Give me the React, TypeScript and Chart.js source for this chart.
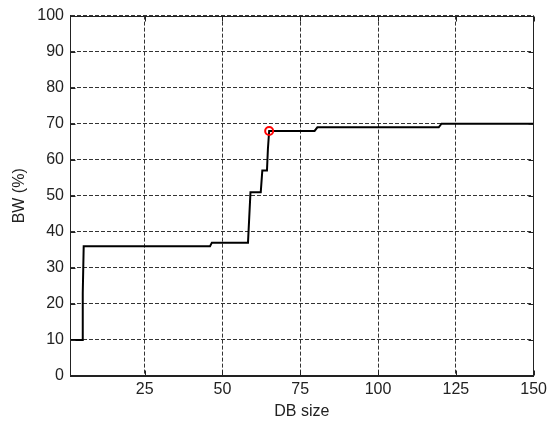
import { useEffect, useRef } from "react";
import { Chart, registerables } from "chart.js";

Chart.register(...registerables);

// Step curve: BW (%) versus DB size
const dbSize = [1, 4.9, 5.1, 5.4, 46, 46.6, 58.2, 58.6, 59, 62.3, 62.8, 64.3, 64.6, 65, 79.6, 80.5, 119.5, 120.4, 150];
const bw = [10, 10, 23, 36, 36, 37, 37, 44, 51, 51, 57, 57, 63, 68, 68, 69, 69, 70, 70];

// Highlighted point
const markerX = [65];
const markerY = [68];

const xTicks = [25, 50, 75, 100, 125, 150];
const yTicks = [0, 10, 20, 30, 40, 50, 60, 70, 80, 90, 100];

const FONT = "'Liberation Sans', Arial, sans-serif";

const boxPlugin = {
  id: "matlabBox",
  afterDatasetsDraw(chart: any) {
    const { ctx, chartArea, scales } = chart;
    const l = Math.round(chartArea.left) + 0.5;
    const r = Math.round(chartArea.right) - 0.5;
    const t = Math.round(chartArea.top) + 0.5;
    const b = Math.round(chartArea.bottom) - 0.5;
    ctx.save();
    ctx.strokeStyle = "#222";
    ctx.lineWidth = 1;
    ctx.setLineDash([]);
    ctx.strokeRect(l, t, r - l, b - t);
    const tl = 5;
    ctx.beginPath();
    for (const v of yTicks) {
      const y = Math.round(scales.y.getPixelForValue(v)) + 0.5;
      ctx.moveTo(l, y);
      ctx.lineTo(l + tl, y);
      ctx.moveTo(r, y);
      ctx.lineTo(r - tl, y);
    }
    for (const v of xTicks) {
      const x = Math.round(scales.x.getPixelForValue(v)) + 0.5;
      ctx.moveTo(x, b);
      ctx.lineTo(x, b - tl);
      ctx.moveTo(x, t);
      ctx.lineTo(x, t + tl);
    }
    ctx.stroke();
    ctx.restore();
  },
};

export default function App() {
  const ref = useRef<HTMLCanvasElement | null>(null);

  useEffect(() => {
    document.body.style.margin = "0";
    const canvas = ref.current;
    if (!canvas) return;
    const chart = new Chart(canvas, {
      type: "line",
      data: {
        datasets: [
          {
            label: "marker",
            data: markerX.map((x, i) => ({ x, y: markerY[i] })),
            showLine: false,
            pointStyle: "circle",
            pointRadius: 4,
            pointBorderWidth: 2,
            pointBorderColor: "#ff0000",
            pointBackgroundColor: "rgba(0,0,0,0)",
            order: 0,
          },
          {
            label: "BW",
            data: dbSize.map((x, i) => ({ x, y: bw[i] })),
            borderColor: "#000000",
            borderWidth: 2,
            pointRadius: 0,
            tension: 0,
            fill: false,
            order: 1,
          },
        ],
      },
      options: {
        animation: false,
        responsive: false,
        maintainAspectRatio: false,
        devicePixelRatio: 1,
        layout: { padding: { left: 0, right: 16, top: 10, bottom: 0 } },
        plugins: {
          legend: { display: false },
          tooltip: { enabled: false },
        },
        scales: {
          x: {
            type: "linear",
            min: 1,
            max: 150,
            afterBuildTicks: (s: any) => {
              s.ticks = xTicks.map((v) => ({ value: v }));
            },
            afterFit: (s: any) => {
              s.height = 49;
            },
            grid: {
              color: "#333",
              lineWidth: 1,
              drawTicks: false,
            },
            border: { display: true, color: "#222", dash: [4, 2] },
            ticks: {
              color: "#222",
              padding: 4,
              maxRotation: 0,
              font: { family: FONT, size: 16 },
            },
            title: {
              display: true,
              text: "DB size",
              color: "#222",
              padding: { top: 4, bottom: 4 },
              font: { family: FONT, size: 16 },
            },
          },
          y: {
            type: "linear",
            min: 0,
            max: 100,
            afterBuildTicks: (s: any) => {
              s.ticks = yTicks.map((v) => ({ value: v }));
            },
            afterFit: (s: any) => {
              s.width = 70;
            },
            grid: {
              color: "#333",
              lineWidth: 1,
              drawTicks: false,
            },
            border: { display: true, color: "#222", dash: [4, 2] },
            ticks: {
              color: "#222",
              padding: 6,
              font: { family: FONT, size: 16 },
            },
            title: {
              display: true,
              text: "BW (%)",
              color: "#222",
              padding: { top: 10, bottom: 0 },
              font: { family: FONT, size: 16 },
            },
          },
        },
      },
      plugins: [boxPlugin],
    });
    return () => chart.destroy();
  }, []);

  return (
    <div style={{ position: "fixed", left: 0, top: 0, width: 551, height: 425, background: "#fff" }}>
      <canvas ref={ref} width={551} height={425} style={{ width: 551, height: 425 }} />
    </div>
  );
}
